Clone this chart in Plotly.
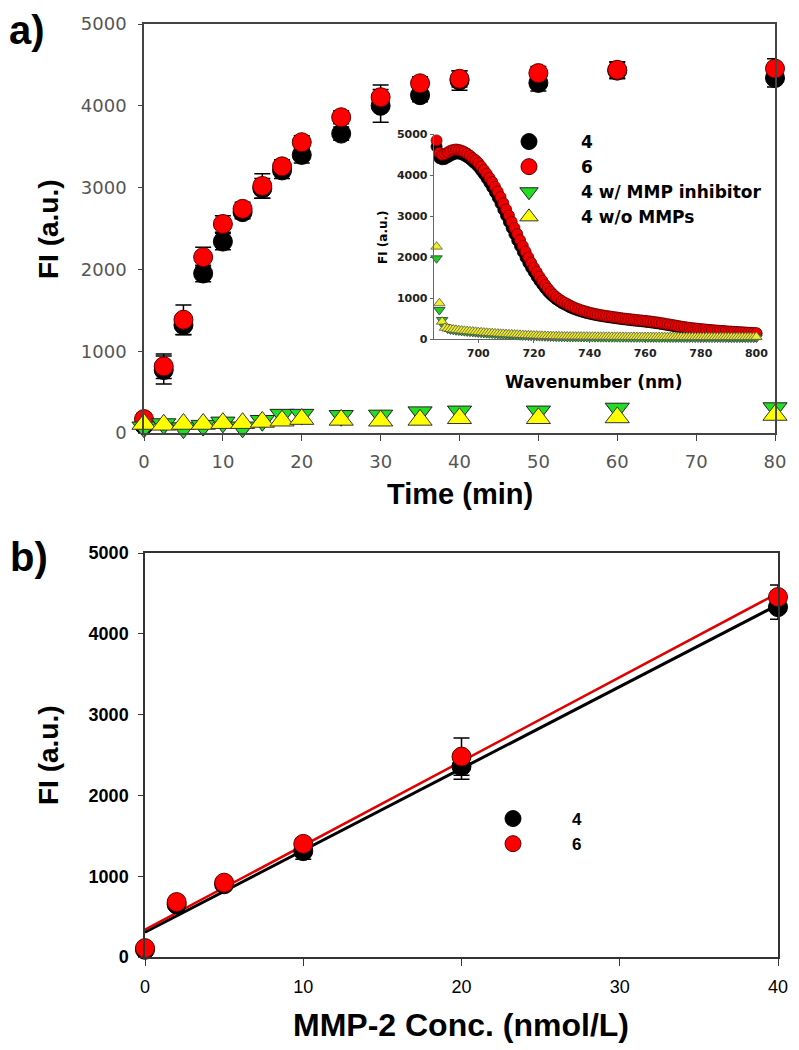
import numpy as np
import plotly.graph_objects as go

# ---------------- data: panel a (time course) ----------------
time_min = [0, 2.5, 5, 7.5, 10, 12.5, 15, 17.5, 20, 25, 30, 35, 40, 50, 60, 80]
fi_4 = [100, 770, 1320, 1950, 2340, 2700, 2990, 3210, 3400, 3660, 4000, 4130, 4310, 4280, 4430, 4340]
fi_4_err = [60, 170, 120, 100, 100, 80, 120, 100, 100, 80, 200, 80, 120, 100, 100, 110]
fi_6 = [170, 815, 1385, 2150, 2555, 2740, 3020, 3260, 3555, 3860, 4105, 4275, 4330, 4400, 4440, 4455]
fi_6_err = [60, 150, 180, 120, 100, 80, 150, 80, 80, 80, 150, 80, 100, 80, 100, 120]
fi_4_inhib = [70, 110, 60, 90, 130, 70, 150, 225, 225, 210, 215, 255, 265, 265, 300, 305]
fi_4_nommp = [110, 100, 110, 110, 120, 120, 135, 150, 170, 160, 150, 160, 180, 180, 190, 220]

# ---------------- data: inset (spectra) ----------------
wavelength = list(range(685, 801))
spec_4 = [4700, 4420, 4390, 4400, 4440, 4480, 4510, 4530, 4530, 4510,
          4480, 4440, 4390, 4330, 4270, 4200, 4110, 4020, 3920, 3810,
          3700, 3580, 3450, 3310, 3160, 3010, 2860, 2710, 2560, 2410,
          2270, 2130, 1990, 1860, 1740, 1630, 1520, 1420, 1330, 1240,
          1160, 1090, 1030, 975, 930, 885, 850, 815, 780, 750,
          725, 700, 680, 660, 640, 625, 610, 595, 582, 570,
          558, 548, 538, 528, 518, 508, 499, 490, 482, 474,
          466, 458, 451, 444, 437, 430, 422, 413, 404, 394,
          384, 373, 361, 349, 337, 325, 314, 303, 292, 282,
          272, 263, 255, 247, 240, 233, 226, 220, 214, 208,
          203, 198, 193, 188, 183, 179, 175, 171, 167, 163,
          159, 155, 151, 147, 144, 140]
spec_6 = [4850, 4550, 4500, 4520, 4560, 4600, 4620, 4630, 4620, 4600,
          4570, 4530, 4480, 4420, 4370, 4300, 4220, 4130, 4040, 3940,
          3840, 3720, 3600, 3470, 3320, 3170, 3020, 2870, 2720, 2570,
          2420, 2280, 2140, 2000, 1870, 1750, 1640, 1530, 1430, 1330,
          1240, 1160, 1090, 1030, 980, 935, 895, 860, 825, 790,
          760, 735, 710, 690, 670, 650, 635, 620, 605, 592,
          580, 570, 560, 550, 540, 530, 520, 510, 502, 494,
          486, 478, 470, 463, 456, 450, 442, 434, 425, 415,
          405, 394, 382, 370, 358, 346, 334, 322, 311, 300,
          290, 281, 272, 264, 257, 250, 243, 236, 230, 224,
          218, 212, 207, 202, 197, 192, 187, 183, 178, 174,
          170, 166, 162, 158, 154, 150]
spec_4_inhib = [1975, 715, 470, 300, 260, 240, 230, 220, 212, 205,
                198, 191, 185, 179, 173, 167, 161, 155, 150, 145,
                140, 135, 130, 126, 122, 118, 114, 110, 106, 102,
                98, 95, 92, 89, 86, 83, 80, 77, 75, 73,
                71, 69, 67, 65, 63, 61,
                60, 59, 58, 58, 57, 56, 56, 55, 55, 54,
                54, 53, 53, 52, 52, 51, 51, 50, 50, 50,
                49, 49, 49, 48, 48, 48, 47, 47, 47, 46,
                46, 46, 46, 45, 45, 45, 45, 44, 44, 44,
                44, 44, 43, 43, 43, 43, 43, 42, 42, 42,
                42, 42, 42, 41, 41, 41, 41, 41, 41, 40,
                40, 40, 40, 40, 40, 40, 40, 40, 40, 40]
spec_4_nommp = [2260, 880, 430, 280, 262, 250, 240, 231, 223, 215,
                208, 201, 195, 189, 183, 177, 171, 165, 160, 155,
                150, 145, 140, 136, 132, 128, 124, 120, 116, 112,
                108, 105, 102, 99, 96, 93, 90, 87, 85, 83,
                81, 79, 77, 75, 73, 71,
                70, 69, 68, 68, 67, 66, 66, 65, 65, 64,
                64, 63, 63, 62, 62, 61, 61, 60, 60, 60,
                59, 59, 59, 58, 58, 58, 57, 57, 57, 56,
                56, 56, 56, 55, 55, 55, 55, 54, 54, 54,
                54, 54, 53, 53, 53, 53, 53, 52, 52, 52,
                52, 52, 52, 51, 51, 51, 51, 51, 51, 50,
                50, 50, 50, 50, 50, 50, 50, 50, 50, 60]

# ---------------- data: panel b (concentration) ----------------
conc = [0, 2, 5, 10, 20, 40]
conc_fi_4 = [90, 650, 900, 1310, 2360, 4330]
conc_fi_4_err = [40, 60, 60, 100, 160, 150]
conc_fi_6 = [110, 680, 920, 1400, 2480, 4455]
conc_fi_6_err = [40, 50, 50, 60, 230, 150]

# ---------------- layout helpers (page has an 8px body margin) ----------------
W, H = 799, 1050
OFF = 8
def fx(p):
    return (p - OFF) / W
def fy(p):
    return 1 - (p - OFF) / H

FONT = "Liberation Sans, Arial, sans-serif"
WIDE = "DejaVu Sans, Verdana, sans-serif"

fig = go.Figure()

# ---- panel a main ----
fig.add_trace(go.Scatter(
    x=time_min, y=fi_4, mode="markers", name="4", legend="legend",
    marker=dict(symbol="circle", size=19, color="black", line=dict(color="black", width=1)),
    error_y=dict(type="data", array=fi_4_err, color="black", thickness=1.5, width=8),
    cliponaxis=False, xaxis="x", yaxis="y"))
fig.add_trace(go.Scatter(
    x=time_min, y=fi_6, mode="markers", name="6", legend="legend",
    marker=dict(symbol="circle", size=19, color="#ff0000", line=dict(color="#5a0000", width=1)),
    error_y=dict(type="data", array=fi_6_err, color="black", thickness=1.5, width=8),
    cliponaxis=False, xaxis="x", yaxis="y"))
fig.add_trace(go.Scatter(
    x=time_min, y=fi_4_inhib, mode="markers", name="4 w/ MMP inhibitor", legend="legend",
    marker=dict(symbol="triangle-down", size=21, color="#22dd22", line=dict(color="#222", width=1)),
    cliponaxis=False, xaxis="x", yaxis="y"))
fig.add_trace(go.Scatter(
    x=time_min, y=fi_4_nommp, mode="markers", name="4 w/o MMPs", legend="legend",
    marker=dict(symbol="triangle-up", size=21, color="#ffff00", line=dict(color="#333", width=1)),
    cliponaxis=False, xaxis="x", yaxis="y"))

# ---- inset ----
fig.add_trace(go.Scatter(
    x=wavelength, y=spec_4, mode="markers", showlegend=False,
    marker=dict(symbol="circle", size=11, color="black", line=dict(color="black", width=0.8)),
    error_y=dict(type="constant", value=90, color="black", thickness=1, width=3),
    cliponaxis=False, xaxis="x2", yaxis="y2"))
fig.add_trace(go.Scatter(
    x=wavelength, y=spec_6, mode="markers", showlegend=False,
    marker=dict(symbol="circle", size=11, color="#ee0000", line=dict(color="#6a0000", width=0.8)),
    cliponaxis=False, xaxis="x2", yaxis="y2"))
fig.add_trace(go.Scatter(
    x=wavelength, y=spec_4_inhib, mode="markers", showlegend=False,
    marker=dict(symbol="triangle-down", size=10, color="#22cc22", line=dict(color="#333", width=0.8)),
    cliponaxis=False, xaxis="x2", yaxis="y2"))
fig.add_trace(go.Scatter(
    x=wavelength, y=spec_4_nommp, mode="markers", showlegend=False,
    marker=dict(symbol="triangle-up", size=10, color="#eeee22", line=dict(color="#555", width=0.8)),
    cliponaxis=False, xaxis="x2", yaxis="y2"))

# ---- panel b ----
xline = [min(conc), max(conc)]
s4, b4 = np.polyfit(conc, conc_fi_4, 1)
s6, b6 = np.polyfit(conc, conc_fi_6, 1)
fig.add_trace(go.Scatter(
    x=xline, y=[s4 * v + b4 for v in xline], mode="lines", showlegend=False,
    line=dict(color="black", width=3), xaxis="x3", yaxis="y3"))
fig.add_trace(go.Scatter(
    x=xline, y=[s6 * v + b6 for v in xline], mode="lines", showlegend=False,
    line=dict(color="#e00000", width=2.5), xaxis="x3", yaxis="y3"))
fig.add_trace(go.Scatter(
    x=conc, y=conc_fi_4, mode="markers", name="4", legend="legend2",
    marker=dict(symbol="circle", size=19, color="black", line=dict(color="black", width=1)),
    error_y=dict(type="data", array=conc_fi_4_err, color="black", thickness=1.5, width=8),
    cliponaxis=False, xaxis="x3", yaxis="y3"))
fig.add_trace(go.Scatter(
    x=conc, y=conc_fi_6, mode="markers", name="6", legend="legend2",
    marker=dict(symbol="circle", size=19, color="#ff0000", line=dict(color="#5a0000", width=1)),
    error_y=dict(type="data", array=conc_fi_6_err, color="black", thickness=1.5, width=8),
    cliponaxis=False, xaxis="x3", yaxis="y3"))

main_axis = dict(showline=True, linewidth=1.5, showgrid=False, zeroline=False,
                 ticks="outside", automargin=False)

fig.update_layout(
    width=W, height=H,
    margin=dict(l=0, r=0, t=0, b=0),
    paper_bgcolor="white", plot_bgcolor="white",
    font=dict(family=FONT, color="black"),
    showlegend=True,
    xaxis=dict(**main_axis, anchor="y", domain=[fx(144), fx(775)], range=[0, 80],
               tickvals=[0, 10, 20, 30, 40, 50, 60, 70, 80], mirror=True,
               linecolor="#444", tickcolor="#444", ticklen=6, ticklabelstandoff=6,
               tickfont=dict(family=WIDE, size=18, color="#555")),
    yaxis=dict(**main_axis, anchor="x", domain=[fy(433), fy(24)], range=[0, 5000],
               tickvals=[0, 1000, 2000, 3000, 4000, 5000], mirror=True,
               linecolor="#444", tickcolor="#444", ticklen=4, ticklabelstandoff=8,
               tickfont=dict(family=WIDE, size=18, color="#555")),
    xaxis2=dict(showline=True, linewidth=1.2, linecolor="#666", showgrid=False, zeroline=False,
                ticks="outside", ticklen=3, tickcolor="#666", automargin=False,
                anchor="y2", domain=[fx(433.8), fx(762)], range=[684, 802],
                tickvals=[700, 720, 740, 760, 780, 800],
                tickfont=dict(family=WIDE, size=11, color="#222", weight="bold")),
    yaxis2=dict(showline=True, linewidth=1.2, linecolor="#666", showgrid=False, zeroline=False,
                ticks="outside", ticklen=3, tickcolor="#666", automargin=False,
                anchor="x2", domain=[fy(339.3), fy(134.3)], range=[0, 5000],
                tickvals=[0, 1000, 2000, 3000, 4000, 5000],
                tickfont=dict(family=WIDE, size=11, color="#222", weight="bold")),
    xaxis3=dict(**main_axis, anchor="y3", domain=[fx(145), fx(778)], range=[0, 40],
                tickvals=[0, 10, 20, 30, 40], mirror=True,
                linecolor="#333", tickcolor="#333", ticklen=7, ticklabelstandoff=6,
                tickfont=dict(family=FONT, size=18, color="black")),
    yaxis3=dict(**main_axis, anchor="x3", domain=[fy(957), fy(553)], range=[0, 5000],
                tickvals=[0, 1000, 2000, 3000, 4000, 5000], mirror=True,
                linecolor="#333", tickcolor="#333", ticklen=5, ticklabelstandoff=6,
                tickfont=dict(family=FONT, size=18, color="black", weight="bold")),
    legend=dict(x=fx(477), y=fy(124), xanchor="left", yanchor="top",
                bgcolor="rgba(0,0,0,0)", borderwidth=0, itemwidth=94, tracegroupgap=0,
                font=dict(family=WIDE, size=17, color="black", weight="bold")),
    legend2=dict(x=fx(454), y=fy(801), xanchor="left", yanchor="top",
                 bgcolor="rgba(0,0,0,0)", borderwidth=0, itemwidth=108, tracegroupgap=0,
                 font=dict(family=FONT, size=17, color="black", weight="bold")),
)

ann = [
    dict(text="a)", x=fx(27), y=fy(30), size=40, family=FONT, angle=0),
    dict(text="b)", x=fx(29), y=fy(557), size=40, family=FONT, angle=0),
    dict(text="Time (min)", x=fx(460), y=fy(494), size=29, family=FONT, angle=0),
    dict(text="FI (a.u.)", x=fx(48), y=fy(229), size=28, family=FONT, angle=-90),
    dict(text="FI (a.u.)", x=fx(48), y=fy(755), size=28, family=FONT, angle=-90),
    dict(text="MMP-2 Conc. (nmol/L)", x=fx(461), y=fy(1025), size=32, family=FONT, angle=0),
    dict(text="Wavenumber (nm)", x=fx(594), y=fy(382), size=17, family=WIDE, angle=0),
    dict(text="FI (a.u.)", x=fx(383), y=fy(237), size=12, family=WIDE, angle=-90),
]
for a in ann:
    fig.add_annotation(text=a["text"], x=a["x"], y=a["y"], xref="paper", yref="paper",
                       xanchor="center", yanchor="middle", showarrow=False,
                       textangle=a["angle"],
                       font=dict(family=a["family"], size=a["size"], color="black", weight="bold"))

fig.write_html("out.html")
